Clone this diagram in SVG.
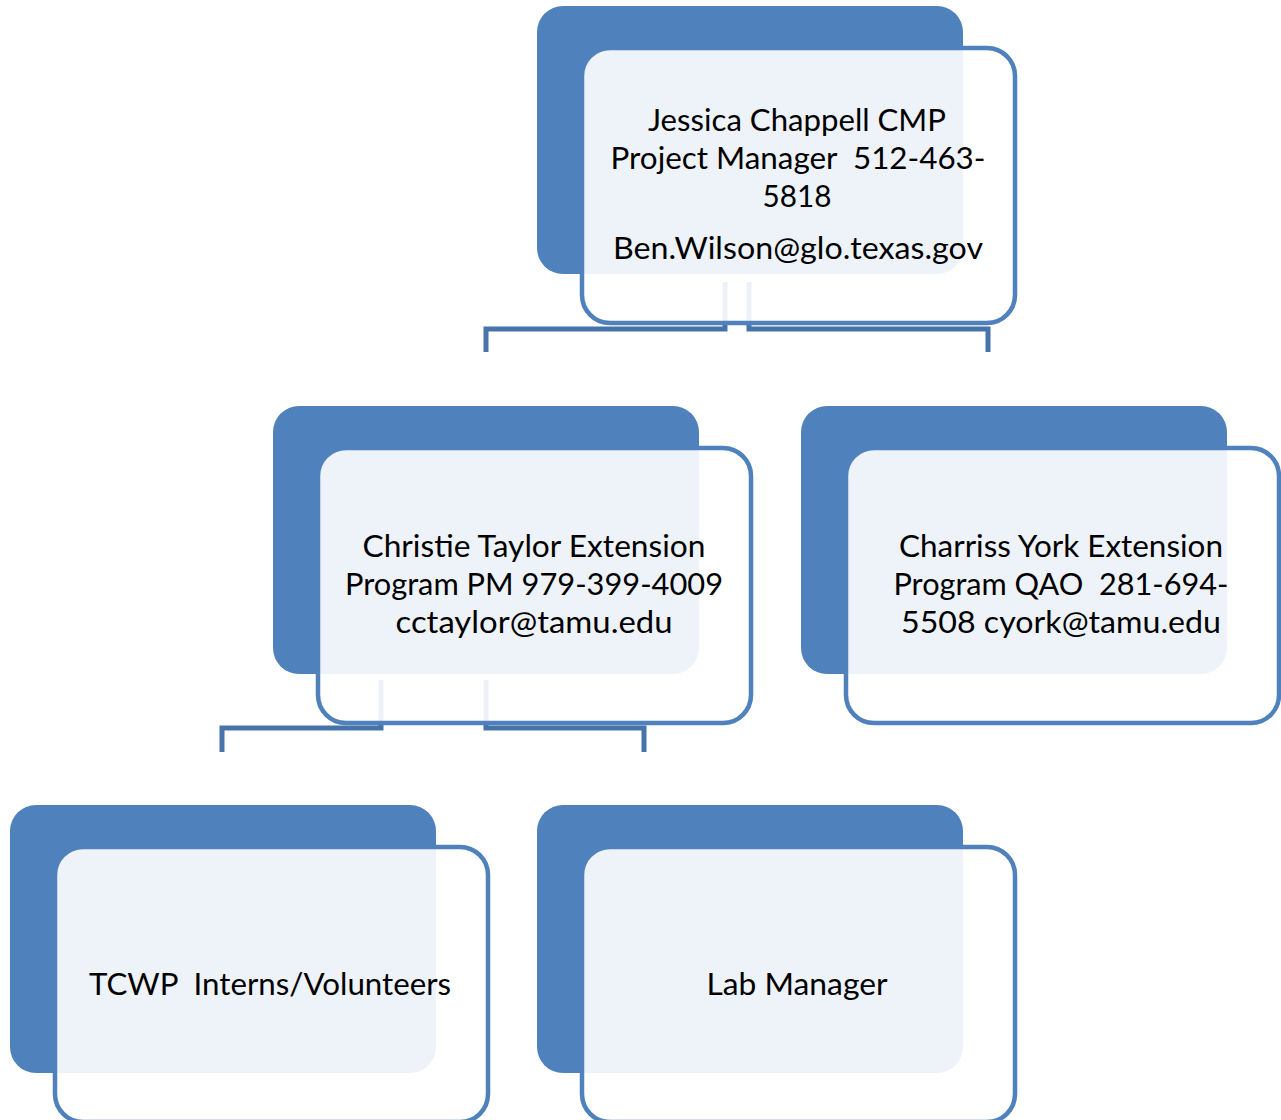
<svg xmlns="http://www.w3.org/2000/svg" width="1281" height="1120" viewBox="0 0 1281 1120">
<style>
.back{fill:#4F81BD;}
.front{fill:#FFFFFF;fill-opacity:0.9;stroke:#4F81BD;stroke-width:4.5;}
.conn{fill:none;stroke:#4673AA;stroke-width:5;}
.t{font-family:Lato,"Liberation Sans",Arial,sans-serif;font-size:30px;fill:#000;text-anchor:middle;}
</style>
<rect width="1281" height="1120" fill="#FFFFFF"/>
<g id="connectors">
<polyline class="conn" points="725,282 725,329 486,329 486,352"/>
<polyline class="conn" points="749,282 749,329 988,329 988,352"/>
<polyline class="conn" points="381,680 381,728 222,728 222,752"/>
<polyline class="conn" points="486,680 486,728 644,728 644,752"/>
</g>
<g id="node-jessica">
<rect class="back" x="537" y="6" width="426" height="268" rx="26"/>
<rect class="front" x="582" y="48" width="433" height="275" rx="28"/>
<text class="t" xml:space="preserve"><tspan x="797" y="131" textLength="298" lengthAdjust="spacingAndGlyphs">Jessica Chappell CMP</tspan><tspan x="798" y="169" textLength="375" lengthAdjust="spacingAndGlyphs">Project Manager  512-463-</tspan><tspan x="797" y="207" textLength="69" lengthAdjust="spacingAndGlyphs">5818</tspan><tspan x="798" y="259" textLength="370" lengthAdjust="spacingAndGlyphs">Ben.Wilson@glo.texas.gov</tspan></text>
</g>
<g id="node-christie">
<rect class="back" x="273" y="406" width="426" height="268" rx="26"/>
<rect class="front" x="318" y="448" width="433" height="275" rx="28"/>
<text class="t"><tspan x="534" y="557" textLength="343" lengthAdjust="spacingAndGlyphs">Christie Taylor Extension</tspan><tspan x="534" y="595" textLength="378" lengthAdjust="spacingAndGlyphs">Program PM 979-399-4009</tspan><tspan x="534" y="633" textLength="277" lengthAdjust="spacingAndGlyphs">cctaylor@tamu.edu</tspan></text>
</g>
<g id="node-charriss">
<rect class="back" x="801" y="406" width="426" height="268" rx="26"/>
<rect class="front" x="846" y="448" width="433" height="275" rx="28"/>
<text class="t" xml:space="preserve"><tspan x="1061" y="557" textLength="324" lengthAdjust="spacingAndGlyphs">Charriss York Extension</tspan><tspan x="1061" y="595" textLength="335" lengthAdjust="spacingAndGlyphs">Program QAO  281-694-</tspan><tspan x="1061" y="633" textLength="320" lengthAdjust="spacingAndGlyphs">5508 cyork@tamu.edu</tspan></text>
</g>
<g id="node-tcwp">
<rect class="back" x="10" y="805" width="426" height="268" rx="26"/>
<rect class="front" x="55" y="847" width="433" height="275" rx="28"/>
<text class="t" xml:space="preserve"><tspan x="270" y="995" textLength="362" lengthAdjust="spacingAndGlyphs">TCWP  Interns/Volunteers</tspan></text>
</g>
<g id="node-lab">
<rect class="back" x="537" y="805" width="426" height="268" rx="26"/>
<rect class="front" x="582" y="847" width="433" height="275" rx="28"/>
<text class="t"><tspan x="797" y="995" textLength="181" lengthAdjust="spacingAndGlyphs">Lab Manager</tspan></text>
</g>
</svg>
